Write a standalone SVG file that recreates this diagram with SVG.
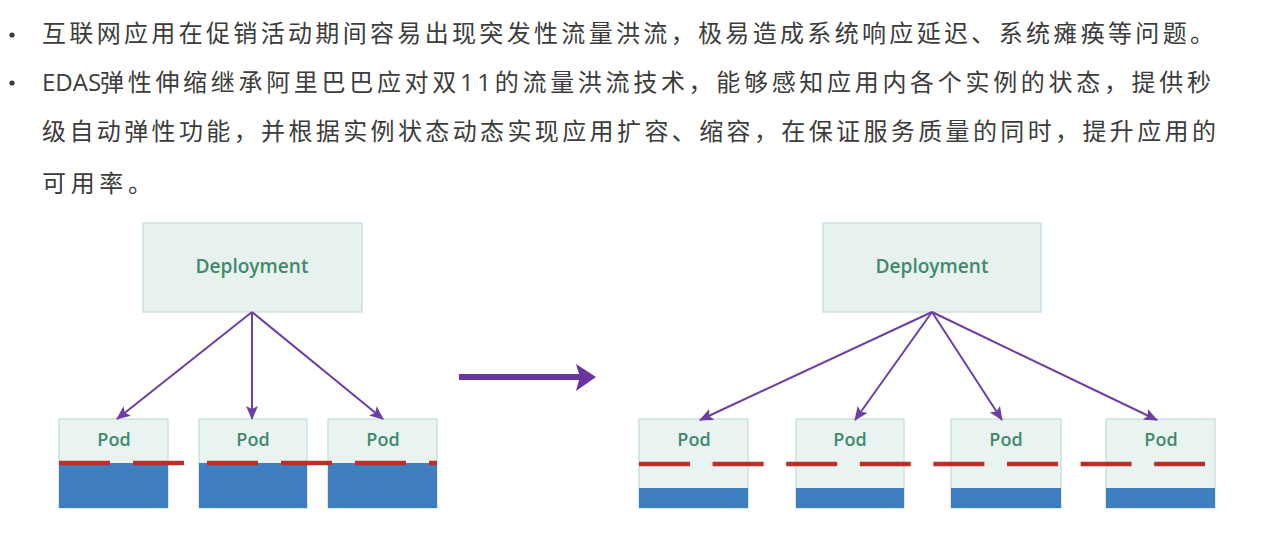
<svg xmlns="http://www.w3.org/2000/svg" width="1280" height="549" viewBox="0 0 1280 549">
<style>
.body{font-family:"Open Sans","Noto Sans CJK SC",sans-serif;font-size:24px;fill:#3c3c3c;}
.box{fill:#e7f2ee;stroke:#cde2da;stroke-width:1.5;}
.pod{fill:#e9f3f0;stroke:#cde2da;stroke-width:1.5;}
.lbl{font-family:"Open Sans","Liberation Sans",sans-serif;font-weight:600;fill:#3f8a6d;text-anchor:middle;}
.blue{fill:#3f7fc0;}
.red{stroke:#b9302a;stroke-width:4.5;fill:none;}
.conn{stroke:#6d3fa6;stroke-width:2;fill:none;marker-end:url(#ah);}
</style>
<defs>
<marker id="ah" viewBox="0 0 14 12" refX="13" refY="6" markerWidth="14" markerHeight="12" markerUnits="userSpaceOnUse" orient="auto">
<path d="M0,0 L14,6 L0,12 L3,6 z" fill="#6d3fa6"/>
</marker>
</defs>
<rect width="1280" height="549" fill="#ffffff"/>
<g id="text">
<circle cx="12" cy="35" r="2.6" fill="#3c3c3c"/>
<circle cx="12" cy="83" r="2.6" fill="#3c3c3c"/>
<text class="body" x="42" y="42" textLength="1172" lengthAdjust="spacing">互联网应用在促销活动期间容易出现突发性流量洪流，极易造成系统响应延迟、系统瘫痪等问题。</text>
<text class="body" x="42" y="91">EDAS</text>
<text class="body" x="100" y="91" textLength="1111" lengthAdjust="spacing">弹性伸缩继承阿里巴巴应对双11的流量洪流技术，能够感知应用内各个实例的状态，提供秒</text>
<text class="body" x="42" y="140" textLength="1174" lengthAdjust="spacing">级自动弹性功能，并根据实例状态动态实现应用扩容、缩容，在保证服务质量的同时，提升应用的</text>
<text class="body" x="42" y="192" textLength="110" lengthAdjust="spacing">可用率。</text>
</g>
<g id="deploy-left">
<rect class="box" x="143" y="223" width="219" height="89"/>
<text class="lbl" x="252" y="273" font-size="19" textLength="113" lengthAdjust="spacingAndGlyphs">Deployment</text>
</g>
<g id="pod-l1">
<rect class="pod" x="59" y="419" width="109" height="89"/>
<rect class="blue" x="59" y="463" width="109" height="45"/>
<text class="lbl" x="114" y="446" font-size="18">Pod</text>
</g>
<g id="pod-l2">
<rect class="pod" x="199" y="419" width="108" height="89"/>
<rect class="blue" x="199" y="463" width="108" height="45"/>
<text class="lbl" x="253" y="446" font-size="18">Pod</text>
</g>
<g id="pod-l3">
<rect class="pod" x="328" y="419" width="109" height="89"/>
<rect class="blue" x="328" y="463" width="109" height="45"/>
<text class="lbl" x="383" y="446" font-size="18">Pod</text>
</g>
<g id="deploy-right">
<rect class="box" x="823" y="223" width="218" height="89"/>
<text class="lbl" x="932" y="273" font-size="19" textLength="113" lengthAdjust="spacingAndGlyphs">Deployment</text>
</g>
<g id="pod-r1">
<rect class="pod" x="639" y="419" width="109" height="89"/>
<rect class="blue" x="639" y="488" width="109" height="20"/>
<text class="lbl" x="694" y="446" font-size="18">Pod</text>
</g>
<g id="pod-r2">
<rect class="pod" x="796" y="419" width="108" height="89"/>
<rect class="blue" x="796" y="488" width="108" height="20"/>
<text class="lbl" x="850" y="446" font-size="18">Pod</text>
</g>
<g id="pod-r3">
<rect class="pod" x="951" y="419" width="110" height="89"/>
<rect class="blue" x="951" y="488" width="110" height="20"/>
<text class="lbl" x="1006" y="446" font-size="18">Pod</text>
</g>
<g id="pod-r4">
<rect class="pod" x="1106" y="419" width="109" height="89"/>
<rect class="blue" x="1106" y="488" width="109" height="20"/>
<text class="lbl" x="1161" y="446" font-size="18">Pod</text>
</g>
<g id="levels">
<line class="red" x1="59" y1="463" x2="437" y2="463" stroke-dasharray="51 23"/>
<line class="red" x1="639" y1="464" x2="1205" y2="464" stroke-dasharray="51 22.6"/>
</g>
<g id="connectors">
<line class="conn" x1="252" y1="312" x2="117" y2="419"/>
<line class="conn" x1="252" y1="312" x2="252" y2="419"/>
<line class="conn" x1="252" y1="312" x2="383" y2="419"/>
<line class="conn" x1="932" y1="312" x2="700" y2="420"/>
<line class="conn" x1="932" y1="312" x2="855" y2="420"/>
<line class="conn" x1="932" y1="312" x2="1002" y2="420"/>
<line class="conn" x1="932" y1="312" x2="1157" y2="420"/>
<polygon points="459,374 579,374 576,364 596,377 576,391 579,380 459,380" fill="#6a35a2"/>
</g>
</svg>
